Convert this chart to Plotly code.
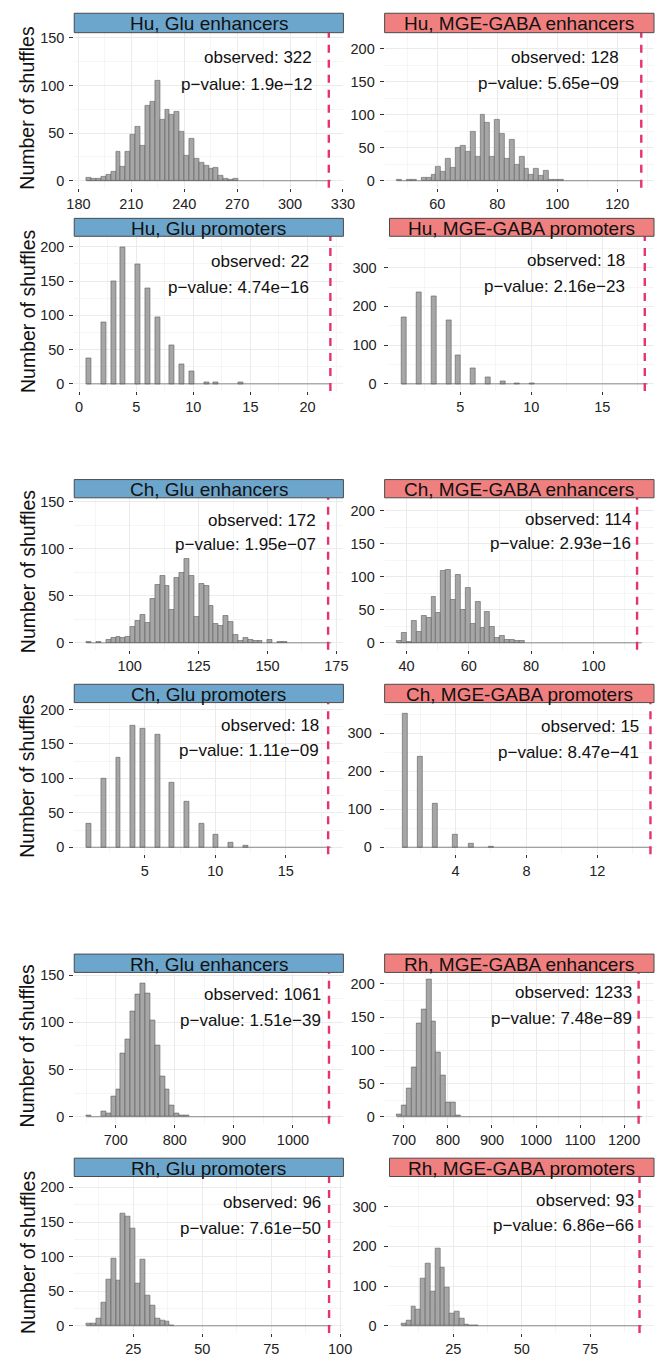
import numpy as np
import plotly.graph_objects as go

FIG_W, FIG_H = 666, 1357
N_BINS = 50

# ---------------- data ----------------
panel_titles = [
    "Hu, Glu enhancers", "Hu, MGE-GABA enhancers",
    "Hu, Glu promoters", "Hu, MGE-GABA promoters",
    "Ch, Glu enhancers", "Ch, MGE-GABA enhancers",
    "Ch, Glu promoters", "Ch, MGE-GABA promoters",
    "Rh, Glu enhancers", "Rh, MGE-GABA enhancers",
    "Rh, Glu promoters", "Rh, MGE-GABA promoters",
]
observed = [322, 128, 22, 18, 172, 114, 18, 15, 1061, 1233, 96, 93]
p_values = ["1.9e−12", "5.65e−09", "4.74e−16", "2.16e−23",
            "1.95e−07", "2.93e−16", "1.11e−09", "8.47e−41",
            "1.51e−39", "7.48e−89", "7.61e−50", "6.86e−66"]
# smallest overlap count among the shuffles
shuffle_min = [186, 48, 1, 1, 85, 37, 1, 1, 655, 688, 9, 7]

# shuffles per histogram bin, starting with the bin holding the minimum
hu_glu_enh_bins = [3, 2, 2, 4, 6, 10, 30, 15, 31, 48, 57, 37, 79, 83, 105, 64, 75, 69,
                   72, 51, 26, 44, 23, 19, 16, 13, 14, 5, 2, 1, 2]
hu_gaba_enh_bins = [1, 0, 1, 2, 0, 5, 4, 9, 21, 14, 33, 20, 50, 53, 44, 75, 37, 100, 88,
                    36, 93, 71, 33, 62, 24, 37, 19, 9, 18, 8, 16, 2, 2, 2]
ch_glu_enh_bins = [1, 0, 1, 0, 3, 5, 6, 5, 6, 17, 23, 30, 21, 47, 62, 71, 61, 35, 69, 75,
                   89, 71, 28, 63, 61, 39, 20, 18, 29, 22, 9, 2, 5, 3, 2, 2, 0, 3, 0, 1, 1]
ch_gaba_enh_bins = [3, 15, 2, 33, 17, 41, 38, 69, 45, 109, 110, 65, 103, 50, 84, 29, 62,
                    22, 47, 25, 8, 10, 4, 5, 3, 3]
rh_glu_enh_bins = [1, 0, 0, 6, 4, 22, 29, 67, 82, 111, 129, 141, 131, 102, 76, 43, 29, 12,
                   4, 1, 1]
rh_gaba_enh_bins = [3, 17, 43, 75, 140, 162, 207, 143, 97, 62, 21, 21, 2]
rh_glu_prom_bins = [3, 3, 10, 33, 67, 97, 65, 162, 158, 140, 61, 96, 44, 30, 11, 7, 6, 1]
rh_gaba_prom_bins = [5, 13, 48, 42, 119, 157, 86, 195, 146, 97, 30, 36, 19, 3, 2, 1]

# shuffles per overlap count (few distinct values)
hu_glu_prom_values = [1, 2, 3, 4, 5, 6, 7, 8, 9, 10, 11, 12, 14]
hu_glu_prom_counts = [38, 90, 149, 199, 175, 140, 97, 56, 29, 19, 3, 2, 2]
hu_gaba_prom_values = [1, 2, 3, 4, 5, 6, 7, 8, 9, 10]
hu_gaba_prom_counts = [171, 236, 225, 164, 75, 39, 17, 6, 2, 1]
ch_glu_prom_values = [1, 2, 3, 4, 5, 6, 7, 8, 9, 10, 11, 12]
ch_glu_prom_counts = [35, 100, 130, 176, 172, 163, 94, 66, 34, 18, 7, 2]
ch_gaba_prom_values = [1, 2, 3, 4, 5, 6]
ch_gaba_prom_counts = [351, 239, 116, 34, 10, 1]

# axis ticks and count-axis upper limits
x_ticks = [[180, 210, 240, 270, 300, 330], [60, 80, 100, 120],
           [0, 5, 10, 15, 20], [5, 10, 15],
           [100, 125, 150, 175], [40, 60, 80, 100],
           [5, 10, 15], [4, 8, 12],
           [700, 800, 900, 1000], [700, 800, 900, 1000, 1100, 1200],
           [25, 50, 75, 100], [25, 50, 75]]
y_ticks = [[0, 50, 100, 150], [0, 50, 100, 150, 200],
           [0, 50, 100, 150, 200], [0, 100, 200, 300],
           [0, 50, 100, 150], [0, 50, 100, 150, 200],
           [0, 50, 100, 150, 200], [0, 100, 200, 300],
           [0, 50, 100, 150], [0, 50, 100, 150, 200],
           [0, 50, 100, 150, 200], [0, 100, 200, 300]]
count_axis_max = [148, 214, 205, 363, 147, 209, 200, 363, 145.5, 207, 205.5, 358]
# promoter panels whose x limits are set explicitly
x_limits_fixed = {3: (0.0, 18.65), 7: (0.0, 15.2)}

panel_data = [
    ("bins", hu_glu_enh_bins), ("bins", hu_gaba_enh_bins),
    ("values", (hu_glu_prom_values, hu_glu_prom_counts)),
    ("values", (hu_gaba_prom_values, hu_gaba_prom_counts)),
    ("bins", ch_glu_enh_bins), ("bins", ch_gaba_enh_bins),
    ("values", (ch_glu_prom_values, ch_glu_prom_counts)),
    ("values", (ch_gaba_prom_values, ch_gaba_prom_counts)),
    ("bins", rh_glu_enh_bins), ("bins", rh_gaba_enh_bins),
    ("bins", rh_glu_prom_bins), ("bins", rh_gaba_prom_bins),
]

# ---------------- page geometry (pixels) ----------------
header_top = [8.3, 214.3, 476.7, 682.3, 953.3, 1158.3]
plot_top = [27.8, 232.3, 495.0, 700.7, 971.7, 1176.7]
plot_bottom = [183.6, 387.6, 647.6, 852.9, 1123.6, 1333.8]
panel_left = [68.3, 388.3, 68.3, 393.3, 68.3, 388.3, 68.3, 388.3, 68.3, 388.3, 68.3, 393.3]
panel_right = [345.8, 666.0] * 6
text_right = [316.7, 633.3, 313.3, 639.3, 320, 645, 323.3, 653.3, 325, 646, 325, 648.3]
obs_text_drop = [25, 24.7, 25, 24.4, 22.7, 21.7, 22.6, 23.6, 21.6, 20, 26, 24.3]
p_text_drop = [52, 51.3, 51, 50.4, 46.7, 45.7, 48.3, 50.3, 48.3, 46, 51.6, 49]

FONT = "Liberation Sans, Arial, Helvetica, sans-serif"
STRIP_COLORS = ["#6CA6CD", "#F08080"]
BAR_FILL = "#a6a6a6"
BAR_EDGE = "#5e5e5e"
VLINE = "#E8336A"


def gg_bins(lo, hi, bins=N_BINS):
    """Histogram breaks following ggplot2's bins= rule (boundary = width / 2)."""
    width = (hi - lo) / (bins - 1)
    boundary = width / 2
    shift = np.floor((lo - boundary) / width)
    origin = boundary + shift * width
    max_x = hi + (1 - 1e-08) * width
    n = int((max_x - origin) / width + 1e-10)
    breaks = origin + np.arange(n + 1) * width
    fuzz = 1e-08 * np.median(np.diff(breaks))
    fuzzy = breaks + np.r_[-fuzz, np.full(n, fuzz)]
    return breaks, fuzzy, width


def bin_of(fuzzy, v):
    # right-closed intervals
    return int(np.searchsorted(fuzzy, v, side="left")) - 1


def minor_ticks(ticks):
    step = ticks[1] - ticks[0]
    mids = [t + step / 2 for t in ticks[:-1]]
    return [ticks[0] - step / 2] + mids + [ticks[-1] + step / 2]


fig = go.Figure()
layout = dict(
    width=FIG_W, height=FIG_H,
    margin=dict(l=0, r=0, t=0, b=0),
    paper_bgcolor="white", plot_bgcolor="white",
    showlegend=False, bargap=0,
    font=dict(family=FONT, color="#1a1a1a"),
)
shapes, annotations = [], []

for i in range(12):
    row = i // 2
    n = "" if i == 0 else str(i + 1)
    lo, obs = shuffle_min[i], observed[i]
    breaks, fuzzy, w = gg_bins(lo, obs)
    heights = np.zeros(len(breaks) - 1)
    kind, payload = panel_data[i]
    if kind == "bins":
        i0 = bin_of(fuzzy, lo)
        heights[i0:i0 + len(payload)] = payload
    else:
        for v, c in zip(*payload):
            heights[bin_of(fuzzy, v)] += c
    centers = (breaks[:-1] + breaks[1:]) / 2
    nz = heights > 0

    span = breaks[-1] - breaks[0]
    x_range = list(x_limits_fixed.get(i, (breaks[0] - 0.05 * span, breaks[-1] + 0.05 * span)))
    U = count_axis_max[i]
    y_range = [-0.05 * U, 1.05 * U]

    # zero-height bins show as a flat outline along the base
    fig.add_trace(go.Scatter(
        x=[breaks[0], breaks[-1]], y=[0, 0], mode="lines",
        line=dict(color=BAR_EDGE, width=0.7), hoverinfo="skip",
        xaxis="x" + n, yaxis="y" + n))
    fig.add_trace(go.Bar(
        x=centers[nz], y=heights[nz], width=w,
        marker=dict(color=BAR_FILL, line=dict(color=BAR_EDGE, width=0.6)),
        xaxis="x" + n, yaxis="y" + n))

    xt = x_ticks[i]
    yt = y_ticks[i]
    wide_labels = max(yt) >= 300
    layout["xaxis" + n] = dict(
        domain=[panel_left[i] / FIG_W, panel_right[i] / FIG_W],
        anchor="y" + n, range=x_range,
        tickmode="array", tickvals=xt, ticktext=[str(t) for t in xt],
        ticks="outside", ticklen=3, tickwidth=1, tickcolor="#333333",
        showgrid=True, gridcolor="#ebebeb", gridwidth=0.8,
        minor=dict(tickmode="array", tickvals=minor_ticks(xt), showgrid=True,
                   gridcolor="#f5f5f5", gridwidth=0.6, ticks=""),
        zeroline=False, showline=False,
        tickfont=dict(family=FONT, size=14.5, color="#222222"),
    )
    layout["yaxis" + n] = dict(
        domain=[1 - plot_bottom[row] / FIG_H, 1 - plot_top[row] / FIG_H],
        anchor="x" + n, range=y_range,
        tickmode="array", tickvals=yt, ticktext=[str(t) for t in yt],
        ticks="outside", ticklen=4, tickwidth=1, tickcolor="#333333",
        ticklabelstandoff=5 if wide_labels else 2,
        showgrid=True, gridcolor="#ebebeb", gridwidth=0.8,
        minor=dict(tickmode="array", tickvals=minor_ticks(yt), showgrid=True,
                   gridcolor="#f5f5f5", gridwidth=0.6, ticks=""),
        zeroline=False, showline=False,
        tickfont=dict(family=FONT, size=14.5, color="#222222"),
    )

    # observed value
    shapes.append(dict(
        type="line", xref="x" + n, yref="y" + n + " domain",
        x0=obs, x1=obs, y0=0, y1=1,
        line=dict(color=VLINE, width=2.4, dash="8px,7px")))

    # strip header
    shapes.append(dict(
        type="rect", xref="paper", yref="paper",
        x0=panel_left[i] / FIG_W, x1=panel_right[i] / FIG_W,
        y0=1 - plot_top[row] / FIG_H, y1=1 - header_top[row] / FIG_H,
        fillcolor=STRIP_COLORS[i % 2], line=dict(color="#4a4a4a", width=1), layer="above"))
    annotations.append(dict(
        text=panel_titles[i], xref="paper", yref="paper",
        x=(panel_left[i] + panel_right[i]) / 2 / FIG_W,
        y=1 - (header_top[row] + plot_top[row]) / 2 / FIG_H,
        xanchor="center", yanchor="middle", yshift=-1, showarrow=False,
        font=dict(family=FONT, size=19, color="#111111")))

    # observed / p-value labels
    shift = text_right[i] - panel_right[i]
    for txt, drop in ((f"observed: {obs}", obs_text_drop[i]),
                      (f"p−value: {p_values[i]}", p_text_drop[i])):
        annotations.append(dict(
            text=txt, xref="x" + n + " domain", yref="y" + n + " domain",
            x=1, y=1, xanchor="right", yanchor="middle",
            xshift=shift, yshift=-drop, showarrow=False,
            font=dict(family=FONT, size=17, color="#111111")))

# y-axis title, one per row
for row in range(6):
    yc = (plot_top[row] + plot_bottom[row]) / 2 - 3
    annotations.append(dict(
        text="Number of shuffles", xref="paper", yref="paper",
        x=20 / FIG_W, y=1 - yc / FIG_H, xanchor="center", yanchor="middle",
        textangle=-90, showarrow=False,
        font=dict(family=FONT, size=19.5, color="#111111")))

layout["shapes"] = shapes
layout["annotations"] = annotations
fig.update_layout(**layout)
fig.write_html("out.html")
